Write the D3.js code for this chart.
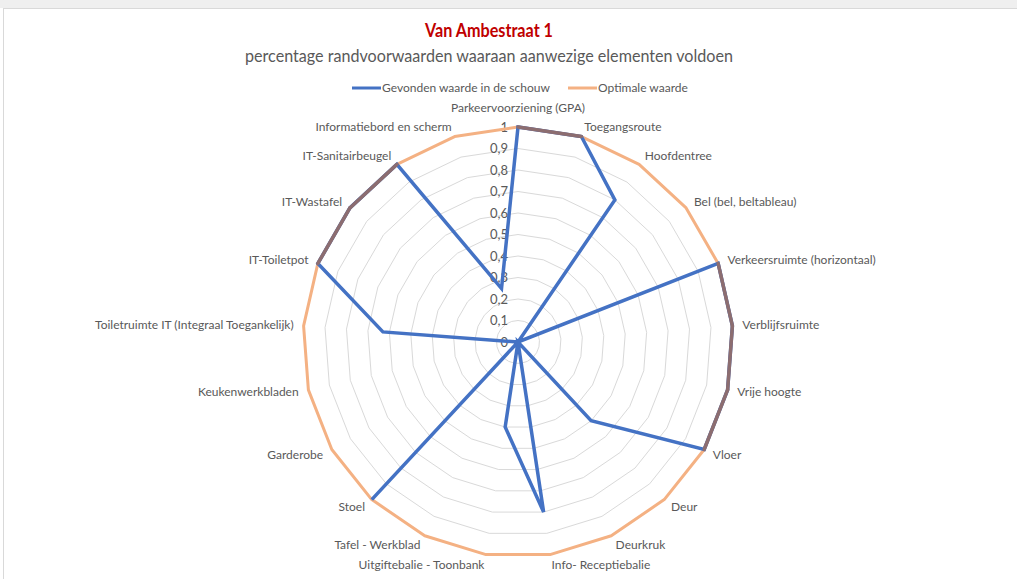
<!DOCTYPE html>
<html>
<head>
<meta charset="utf-8">
<script src="https://cdn.jsdelivr.net/npm/d3@7"></script>
<style>
  body { margin: 0; background: #fff; }
  text { font-family: Lato, "Open Sans", sans-serif; fill: #595959; }
</style>
</head>
<body>
<script>
var width = 1017,
    height = 579,
    cx = 518,
    cy = 342,
    radius = 215;

// categories, clockwise from the top
var categories = [
  "Parkeervoorziening (GPA)", "Toegangsroute", "Hoofdentree", "Bel (bel, beltableau)",
  "Verkeersruimte (horizontaal)", "Verblijfsruimte", "Vrije hoogte", "Vloer", "Deur",
  "Deurkruk", "Info- Receptiebalie", "Uitgiftebalie - Toonbank", "Tafel - Werkblad",
  "Stoel", "Garderobe", "Keukenwerkbladen", "Toiletruimte IT (Integraal Toegankelijk)",
  "IT-Toiletpot", "IT-Wastafel", "IT-Sanitairbeugel", "Informatiebord en scherm"
];
var foundValues   = [1, 1, 0.8, 0, 1, 1, 1, 1, 0.5, 0, 0.8, 0.4, 0, 1, 0, 0, 0.63, 1, 1, 1, 0.26];
var optimalValues = [1, 1, 1, 1, 1, 1, 1, 1, 1, 1, 1, 1, 1, 1, 1, 1, 1, 1, 1, 1, 1];
var tickValues = [0, 0.1, 0.2, 0.3, 0.4, 0.5, 0.6, 0.7, 0.8, 0.9, 1];
var tickLabels = ["0", "0,1", "0,2", "0,3", "0,4", "0,5", "0,6", "0,7", "0,8", "0,9", "1"];
var seriesNames = ["Gevonden waarde in de schouw", "Optimale waarde"];

var blue = "#4472C4", orange = "#F4B183", brown = "#8C6D70";

var r = d3.scaleLinear().domain([0, 1]).range([0, radius]);
var angle = d3.scaleLinear().domain([0, categories.length]).range([0, 2 * Math.PI]);

var svg = d3.select("body").append("svg")
    .attr("width", width)
    .attr("height", height);

// chart frame
svg.append("rect").attr("x", 0).attr("y", 0).attr("width", width).attr("height", 8).attr("fill", "#efefef");
svg.append("rect")
    .attr("x", 3.5).attr("y", 8.5)
    .attr("width", width).attr("height", height)
    .attr("fill", "#fff").attr("stroke", "#d9d9d9");

// titles
svg.append("text")
    .attr("x", 489).attr("y", 37)
    .attr("text-anchor", "middle")
    .attr("textLength", 128).attr("lengthAdjust", "spacingAndGlyphs")
    .style("font-size", "18px").style("font-weight", "bold").style("fill", "#C00000")
    .text("Van Ambestraat 1");
svg.append("text")
    .attr("x", 489).attr("y", 62)
    .attr("text-anchor", "middle")
    .attr("textLength", 488).attr("lengthAdjust", "spacingAndGlyphs")
    .style("font-size", "18px")
    .text("percentage randvoorwaarden waaraan aanwezige elementen voldoen");

// legend
var legend = svg.append("g").attr("transform", "translate(0,88)");
[[352, blue, seriesNames[0]], [568, orange, seriesNames[1]]].forEach(function(l) {
  legend.append("line").attr("x1", l[0]).attr("x2", l[0] + 29).attr("y1", 0).attr("y2", 0)
      .attr("stroke", l[1]).attr("stroke-width", 3);
  legend.append("text").attr("x", l[0] + 30).attr("y", 0).attr("dy", "0.35em")
      .style("font-size", "12px").text(l[2]);
});

var g = svg.append("g").attr("transform", "translate(" + cx + "," + cy + ")");

// grid rings
var ring = d3.lineRadial()
    .angle(function(d, i) { return angle(i); })
    .radius(function(d) { return r(d); })
    .curve(d3.curveLinearClosed);

g.selectAll(".ring")
    .data(tickValues.slice(1))
  .enter().append("path")
    .attr("class", "ring")
    .attr("d", function(v) { return ring(categories.map(function() { return v; })); })
    .attr("fill", "none")
    .attr("stroke", "#d9d9d9")
    .attr("stroke-width", 1);

// value axis labels
g.selectAll(".tick")
    .data(tickValues)
  .enter().append("text")
    .attr("class", "tick")
    .attr("x", -10)
    .attr("y", function(v) { return -r(v); })
    .attr("dy", "0.35em")
    .attr("text-anchor", "end")
    .style("font-size", "13px")
    .text(function(v, i) { return tickLabels[i]; });

// series
g.append("path")
    .attr("d", ring(optimalValues))
    .attr("fill", "none").attr("stroke", orange).attr("stroke-width", 3)
    .attr("stroke-linejoin", "round");

g.append("path")
    .attr("d", ring(foundValues))
    .attr("fill", "none").attr("stroke", blue).attr("stroke-width", 3.5)
    .attr("stroke-linejoin", "miter");

// where both series run along the same edge the line shows brown
function pt(v, i) {
  var a = angle(i);
  return [r(v) * Math.sin(a), -r(v) * Math.cos(a)];
}
var overlap = [];
categories.forEach(function(c, i) {
  var j = (i + 1) % categories.length;
  if (foundValues[i] === optimalValues[i] && foundValues[j] === optimalValues[j]) {
    overlap.push([pt(foundValues[i], i), pt(foundValues[j], j)]);
  }
});
g.selectAll(".overlap")
    .data(overlap)
  .enter().append("line")
    .attr("class", "overlap")
    .attr("x1", function(d) { return d[0][0]; }).attr("y1", function(d) { return d[0][1]; })
    .attr("x2", function(d) { return d[1][0]; }).attr("y2", function(d) { return d[1][1]; })
    .attr("stroke", brown).attr("stroke-width", 3.5).attr("stroke-linecap", "round");

// category labels
g.selectAll(".cat")
    .data(categories)
  .enter().append("text")
    .attr("class", "cat")
    .each(function(d, i) {
      var a = angle(i), s = Math.sin(a), c = Math.cos(a);
      var p = pt(1.0 + 10 / radius, i);
      var anchor = Math.abs(s) < 0.05 ? "middle" : (s > 0 ? "start" : "end");
      var extra = Math.abs(s) < 0.05 ? -c * 9 : 0;
      d3.select(this)
          .attr("x", p[0])
          .attr("y", p[1] + extra)
          .attr("dy", "0.35em")
          .attr("text-anchor", anchor);
    })
    .style("font-size", "12px")
    .text(function(d) { return d; });
</script>
</body>
</html>
